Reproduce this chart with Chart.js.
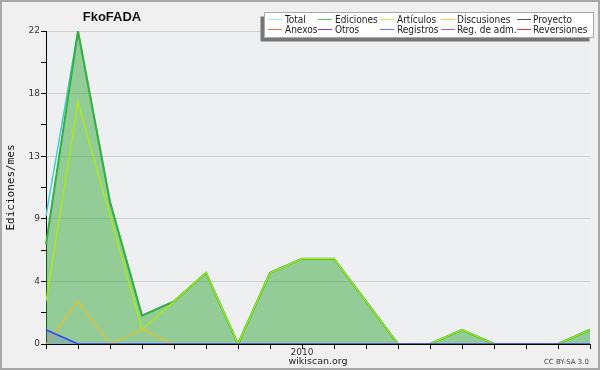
<!DOCTYPE html>
<html><head><meta charset="utf-8">
<script src="https://cdn.jsdelivr.net/npm/chart.js@4/dist/chart.umd.min.js"></script>
<style>html,body{margin:0;padding:0;background:#f0f0f0}#wrap{position:relative;width:600px;height:370px}canvas{display:block}</style>
</head><body><div id="wrap"><canvas id="c" width="600" height="370"></canvas></div>
<script>
// ---- data ----
const months = ['2009-05','2009-06','2009-07','2009-08','2009-09','2009-10','2009-11','2009-12',
  '2010-01','2010-02','2010-03','2010-04','2010-05','2010-06','2010-07','2010-08','2010-09','2010-10'];
const xTickLabels = {'2010-01':'2010'};
const total       = [9,22,10,2,3,5,0,5,6,6,3,0,0,1,0,0,0,1];
const ediciones   = [7,22,10,2,3,5,0,5,6,6,3,0,0,1,0,0,0,1];
const articulos   = [3,17,9,1,3,5,0,5,6,6,3,0,0,1,0,0,0,1];
const discusiones = [0,3,0,1,0,0,0,0,0,0,0,0,0,0,0,0,0,0];
const registros   = [1,0,0,0,0,0,0,0,0,0,0,0,0,0,0,0,0,0];
const yMax = 22;
const yStep = 2.2;
const yTickLabels = ['0','4','9','13','18','22'];
const legendNames = ['Total','Ediciones','Artículos','Discusiones','Proyecto','Anexos','Otros','Registros','Reg. de adm.','Reversiones'];
const legendColors = ['#a8e4e4','#66bb66','#ccee55','#ffcc44','#555555','#ee7744','#9933cc','#6677ee','#cc55cc','#dd3333'];
const chartTitle = 'FkoFADA';
const yTitle = 'Ediciones/mes';
const xTitle = 'wikiscan.org';
const license = 'CC BY-SA 3.0';

// ---- decorations ----
const deco = {
  id: 'deco',
  beforeDraw(chart) {
    const ctx = chart.ctx, a = chart.chartArea;
    ctx.save();
    ctx.fillStyle = '#f0f0f0';
    ctx.fillRect(0, 0, chart.width, chart.height);
    ctx.fillStyle = '#eeeff1';
    ctx.fillRect(a.left, a.top, a.right - a.left, a.bottom - a.top);
    ctx.strokeStyle = '#a8a8a8';
    ctx.lineWidth = 2;
    ctx.strokeRect(1, 1, chart.width - 2, chart.height - 2);
    ctx.restore();
  },
  afterDraw(chart) {
    const ctx = chart.ctx;
    ctx.save();
    // title
    ctx.fillStyle = '#111';
    ctx.font = 'bold 13px "Liberation Sans", Arial, sans-serif';
    ctx.textAlign = 'center';
    ctx.textBaseline = 'middle';
    ctx.fillText(chartTitle, 112, 17);
    // legend box
    const bx = 264.5, by = 12.5, bw = 329, bh = 25;
    ctx.fillStyle = '#777';
    ctx.fillRect(bx - 4, by + 4, bw, bh);
    ctx.fillStyle = '#fff';
    ctx.fillRect(bx, by, bw, bh);
    ctx.strokeStyle = '#aaa';
    ctx.lineWidth = 1;
    ctx.strokeRect(bx, by, bw, bh);
    const colLine = [268, 318, 380, 441, 517];
    const colText = [285, 335, 397, 457, 533];
    const rowY = [19.5, 29.5];
    ctx.font = '10px "DejaVu Sans Condensed", "Liberation Sans", sans-serif';
    ctx.textAlign = 'left';
    ctx.textBaseline = 'middle';
    legendNames.forEach((n, i) => {
      const r = Math.floor(i / 5), c = i % 5;
      ctx.strokeStyle = legendColors[i];
      ctx.lineWidth = 1;
      ctx.beginPath();
      ctx.moveTo(colLine[c], rowY[r]);
      ctx.lineTo(colLine[c] + 14, rowY[r]);
      ctx.stroke();
      ctx.fillStyle = '#222';
      ctx.fillText(n, colText[c], rowY[r] + 0.5);
    });
    // license
    ctx.font = '7px "DejaVu Sans", sans-serif';
    ctx.fillStyle = '#444';
    ctx.textAlign = 'right';
    ctx.fillText(license, 589, 362);
    ctx.restore();
  }
};

const ds = (label, data, color, width, order, fill) => ({
  label, data, borderColor: color, borderWidth: width, order,
  pointRadius: 0, tension: 0, fill: fill ? 'origin' : false,
  backgroundColor: fill || 'transparent'
});

new Chart(document.getElementById('c'), {
  type: 'line',
  data: {
    labels: months,
    datasets: [
      ds(legendNames[0], total, '#44d0d0', 1.5, 10, null),
      ds(legendNames[1], ediciones, '#33b040', 2, 9, 'rgba(58,169,63,0.5)'),
      ds(legendNames[2], articulos, '#aaf000', 1.2, 8, null),
      ds(legendNames[3], discusiones, '#e8bf20', 1.2, 7, null),
      ds(legendNames[7], registros, '#3344ff', 1.5, 6, 'rgba(60,70,255,0.18)')
    ]
  },
  options: {
    responsive: false,
    animation: false,
    layout: { padding: { top: 31, right: 10, left: 0, bottom: 0 } },
    plugins: { legend: { display: false }, title: { display: false }, tooltip: { enabled: false } },
    scales: {
      x: {
        z: 1,
        offset: false,
        afterFit(s) { s.height = 26; },
        grid: { drawOnChartArea: false, drawTicks: true, tickLength: 5, tickColor: '#000' },
        border: { color: '#000', width: 1 },
        ticks: {
          autoSkip: false, maxRotation: 0, padding: -2,
          color: '#333', font: { family: 'DejaVu Sans', size: 9 },
          callback(v, i) { return xTickLabels[months[i]] || ''; }
        },
        title: { display: true, text: xTitle, color: '#222', padding: { top: 0, bottom: 2.5 },
          font: { family: 'DejaVu Sans', size: 9.5 } }
      },
      y: {
        min: 0, max: yMax,
        afterFit(s) { s.width = 46; },
        grid: {
          color: (c) => (c.index % 2 === 0 && c.index > 0) ? '#d0d0d0' : 'rgba(0,0,0,0)',
          tickColor: '#000', tickLength: 5, drawTicks: true
        },
        border: { color: '#000', width: 1 },
        ticks: {
          stepSize: yStep, padding: 1,
          color: '#333', font: { family: 'DejaVu Sans', size: 9 },
          callback(v, i) { return i % 2 === 0 ? yTickLabels[i / 2] : ''; }
        },
        title: { display: true, text: yTitle, color: '#111', padding: { top: 5, bottom: 0 },
          font: { family: 'DejaVu Sans Mono', size: 11 } }
      }
    }
  },
  plugins: [deco]
});
</script>
</body></html>
